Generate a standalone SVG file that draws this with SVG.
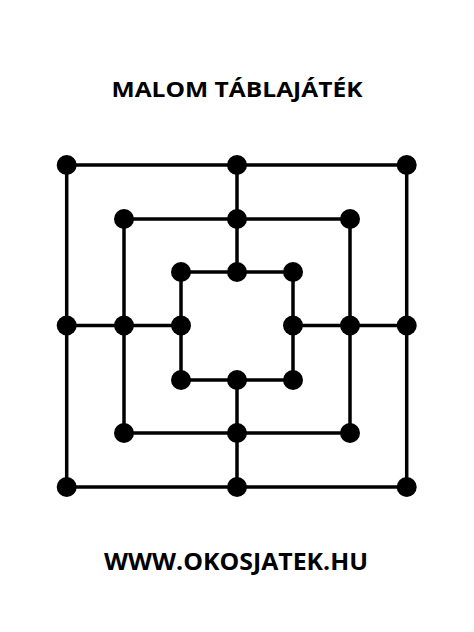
<svg xmlns="http://www.w3.org/2000/svg" width="474" height="632" viewBox="0 0 474 632">
<style>
.t{font-family:"Open Sans","DejaVu Sans",sans-serif;font-weight:bold;fill:#000;text-anchor:middle}
.l{stroke:#000;stroke-width:3.5;fill:none}
.d{fill:#000}
</style>
<rect width="474" height="632" fill="#fff"/>
<text class="t" x="237" y="97" font-size="22" textLength="251" lengthAdjust="spacingAndGlyphs">MALOM TÁBLAJÁTÉK</text>
<g id="connectors">
<rect class="l" x="66.7" y="165" width="340" height="322"/>
<rect class="l" x="124" y="219" width="226" height="214"/>
<rect class="l" x="181" y="272" width="112" height="108"/>
<line class="l" x1="237" y1="165" x2="237" y2="272"/>
<line class="l" x1="237" y1="380" x2="237" y2="487"/>
<line class="l" x1="66.7" y1="325.5" x2="181" y2="325.5"/>
<line class="l" x1="293" y1="325.5" x2="406.7" y2="325.5"/>
</g>
<g id="outer">
<circle class="d" cx="66.7" cy="165" r="10"/>
<circle class="d" cx="237" cy="165" r="10"/>
<circle class="d" cx="406.7" cy="165" r="10"/>
<circle class="d" cx="66.7" cy="325.5" r="10"/>
<circle class="d" cx="406.7" cy="325.5" r="10"/>
<circle class="d" cx="66.7" cy="487" r="10"/>
<circle class="d" cx="237" cy="487" r="10"/>
<circle class="d" cx="406.7" cy="487" r="10"/>
</g>
<g id="middle">
<circle class="d" cx="124" cy="219" r="10"/>
<circle class="d" cx="237" cy="219" r="10"/>
<circle class="d" cx="350" cy="219" r="10"/>
<circle class="d" cx="124" cy="325.5" r="10"/>
<circle class="d" cx="350" cy="325.5" r="10"/>
<circle class="d" cx="124" cy="433" r="10"/>
<circle class="d" cx="237" cy="433" r="10"/>
<circle class="d" cx="350" cy="433" r="10"/>
</g>
<g id="inner">
<circle class="d" cx="181" cy="272" r="10"/>
<circle class="d" cx="237" cy="272" r="10"/>
<circle class="d" cx="293" cy="272" r="10"/>
<circle class="d" cx="181" cy="325.5" r="10"/>
<circle class="d" cx="293" cy="325.5" r="10"/>
<circle class="d" cx="181" cy="380" r="10"/>
<circle class="d" cx="237" cy="380" r="10"/>
<circle class="d" cx="293" cy="380" r="10"/>
</g>
<text class="t" x="236" y="569.5" font-size="24" textLength="264" lengthAdjust="spacingAndGlyphs">WWW.OKOSJATEK.HU</text>
</svg>
